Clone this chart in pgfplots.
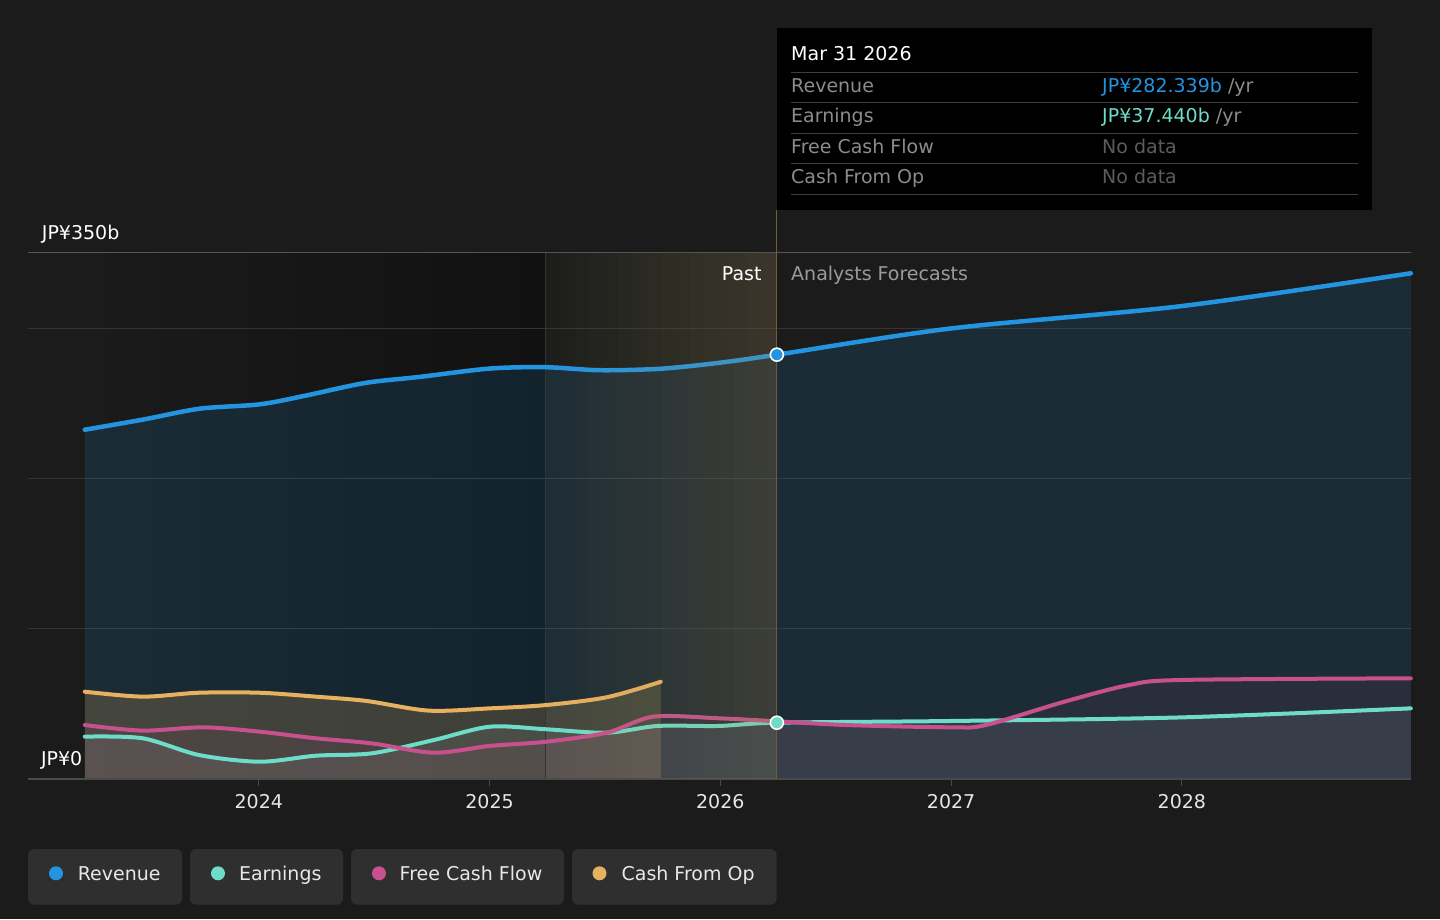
\documentclass[border=0pt]{standalone}
\usepackage{fontspec}
\setmainfont{DejaVu Sans}
\usepackage{pgfplots}
\pgfplotsset{compat=1.18}
\usepackage{pgfplotstable}
\definecolor{bg}{RGB}{27,27,27}
\definecolor{pastc}{RGB}{17,17,17}
\definecolor{revc}{RGB}{35,148,223}
\definecolor{earnc}{RGB}{109,220,200}
\definecolor{fcfc}{RGB}{200,80,142}
\definecolor{cfoc}{RGB}{232,177,95}
\definecolor{tanc}{RGB}{110,94,64}
\definecolor{hlc}{RGB}{185,172,105}
\definecolor{gridc}{RGB}{52,52,52}
\definecolor{axisc}{RGB}{74,74,74}
\definecolor{topc}{RGB}{85,85,85}
\definecolor{ticktext}{RGB}{230,230,230}
\definecolor{ttlab}{RGB}{140,140,140}
\definecolor{ttnod}{RGB}{92,92,92}
\definecolor{ttsep}{RGB}{62,62,62}
\definecolor{legbox}{RGB}{47,47,47}
\definecolor{legtext}{RGB}{232,232,232}
\definecolor{fcastc}{RGB}{155,155,155}
\definecolor{earnfill}{RGB}{190,196,204}

\pgfplotstableread{
x y
2023.246 232.4
2023.50 239.2
2023.744 246.4
2024.004 249.3
2024.20 255.0
2024.46 263.5
2024.70 267.6
2025.00 273.1
2025.244 274.0
2025.478 272.0
2025.742 273.0
2025.998 277.0
2026.245 282.339
2027.00 299.8
2028.00 314.7
2028.992 336.5
}\revtab

\pgfplotstableread{
x y
2023.246 28.2
2023.497 27.1
2023.74 16.0
2024.004 11.5
2024.247 15.5
2024.49 17.1
2024.758 25.9
2025.001 34.8
2025.244 33.1
2025.508 30.8
2025.729 35.3
2025.993 35.3
2026.245 37.44
2027.00 38.6
2028.00 41.0
2028.992 47.0
}\earntab

\pgfplotstableread{
x y
2023.246 35.9
2023.497 32.2
2023.76 34.4
2024.004 31.5
2024.247 27.1
2024.49 23.7
2024.758 17.5
2025.001 22.0
2025.244 24.8
2025.508 30.8
2025.71 41.5
2025.993 40.4
2026.245 38.4
2026.55 35.9
2027.00 34.4
2027.15 35.9
2027.49 51.4
2027.77 62.5
2028.00 65.9
2028.992 67.0
}\fcftab

\pgfplotstableread{
x y
2023.246 58.1
2023.497 54.8
2023.74 57.4
2024.004 57.4
2024.247 54.8
2024.468 51.9
2024.736 45.5
2025.001 47.0
2025.244 49.2
2025.508 54.4
2025.742 64.7
}\cfotab

\pgfplotsset{
  common/.style={
    at={(28pt,140pt)}, anchor=south west, scale only axis,
    width=1383pt, height=526pt,
    xmin=2023, xmax=2028.993, ymin=0, ymax=350,
    clip=false,
  }
}

\begin{document}
\begin{tikzpicture}[font=\fontsize{19}{23}\selectfont]
\begin{scope}[x=1pt,y=1pt]
\fill[bg] (0,0) rectangle (1440,919);
\useasboundingbox (0,0) rectangle (1440,919);

% tooltip box
\fill[black] (777,709) rectangle (1372,891);
\node[anchor=base west,inner sep=0,text=white] at (791,858) {Mar 31 2026};
\foreach \yy in {846.7,816.7,785.3,755.7,724} {\draw[ttsep,line width=1pt] (791,\yy) -- (1358,\yy);}
\node[anchor=base west,inner sep=0,text=ttlab] at (791,826.3) {Revenue};
\node[anchor=base west,inner sep=0,text=ttlab] at (791,796.3) {Earnings};
\node[anchor=base west,inner sep=0,text=ttlab] at (791,765.7) {Free Cash Flow};
\node[anchor=base west,inner sep=0,text=ttlab] at (791,735.7) {Cash From Op};
\node[anchor=base west,inner sep=0] at (1102,826.3) {\textcolor{revc}{JP¥282.339b} \textcolor{ttlab}{/yr}};
\node[anchor=base west,inner sep=0] at (1102,796.3) {\textcolor{earnc}{JP¥37.440b} \textcolor{ttlab}{/yr}};
\node[anchor=base west,inner sep=0,text=ttnod] at (1102,765.7) {No data};
\node[anchor=base west,inner sep=0,text=ttnod] at (1102,735.7) {No data};
\end{scope}

\begin{axis}[
  common,
  axis line style={draw=none},
  xtick={2024,2025,2026,2027,2028},
  xticklabels={2024,2025,2026,2027,2028},
  ytick={100,200,300}, yticklabels={},
  ymajorgrids, grid style={color=gridc, line width=1pt},
  major y tick style={draw=none},
  xtick pos=lower, ytick pos=left,
  tick align=outside, major tick length=7pt,
  x tick style={color=axisc, line width=1pt},
  xticklabel style={font=\fontsize{19}{23}\selectfont, text=ticktext, yshift=-5pt},
  /pgf/number format/assume math mode=true,
]
% darker past band
\shade[left color=bg, right color=pastc] (axis cs:2023.246,0) rectangle (axis cs:2025.244,350);
\draw[gridc, line width=1pt] (axis cs:2023,100) -- (axis cs:2025.244,100);
\draw[gridc, line width=1pt] (axis cs:2023,200) -- (axis cs:2025.244,200);
\draw[gridc, line width=1pt] (axis cs:2023,300) -- (axis cs:2025.244,300);
% fills
\addplot[draw=none, fill=revc, fill opacity=0.14, smooth] table {\revtab} \closedcycle;
\addplot[draw=none, fill=cfoc, fill opacity=0.2, smooth] table {\cfotab} \closedcycle;
\addplot[draw=none, fill=fcfc, fill opacity=0.08, smooth] table {\fcftab} \closedcycle;
\addplot[draw=none, fill=earnfill, fill opacity=0.1, smooth] table {\earntab} \closedcycle;
% vertical separator
\draw[gridc, line width=1pt] (axis cs:2025.244,0) -- (axis cs:2025.244,350);
% lines
\addplot[revc, line width=4.5pt, smooth, line cap=round] table {\revtab};
\addplot[cfoc, line width=4pt, smooth, line cap=round] table {\cfotab};
\addplot[earnc, line width=4pt, smooth, line cap=round] table {\earntab};
\addplot[fcfc, line width=4pt, smooth, line cap=round] table {\fcftab};
% axis lines
\draw[topc, line width=1pt] (rel axis cs:0,1) -- (rel axis cs:1,1);
\draw[axisc, line width=1.5pt] (rel axis cs:0,0) -- (rel axis cs:1,0);
\end{axis}

% highlight overlay (gradient built from nested translucent strips)
\begin{scope}[x=1pt,y=1pt]
\foreach \i in {0,...,15} {
  \fill[hlc, fill opacity=0.015] ({546+\i*14.4375},140) rectangle (777,666);
}
\end{scope}

\begin{axis}[common, hide axis]
\draw[tanc, line width=1.2pt] (axis cs:2026.245,0) -- (axis cs:2026.245,378.6);
\addplot[only marks, mark=*, mark size=6.5pt, mark options={fill=revc, draw=white, line width=1.6pt}] coordinates {(2026.245,282.339)};
\addplot[only marks, mark=*, mark size=6.5pt, mark options={fill=earnc, draw=white, line width=1.6pt}] coordinates {(2026.245,37.44)};
\end{axis}

\begin{scope}[x=1pt,y=1pt]
% axis texts
\node[anchor=base west,inner sep=0,text=white] at (41.7,679.7) {JP¥350b};
\node[anchor=base west,inner sep=0,text=white] at (40.8,153.3) {JP¥0};
\node[anchor=base east,inner sep=0,text=white] at (761.7,638.3) {Past};
\node[anchor=base west,inner sep=0,text=fcastc] at (791,638.3) {Analysts Forecasts};

% legend
\fill[legbox, rounded corners=6pt] (28,14.3) rectangle (182,70);
\fill[legbox, rounded corners=6pt] (190,14.3) rectangle (343,70);
\fill[legbox, rounded corners=6pt] (351,14.3) rectangle (564,70);
\fill[legbox, rounded corners=6pt] (572,14.3) rectangle (776.5,70);
\fill[revc] (56,45.7) circle (7);
\fill[earnc] (218,45.7) circle (7);
\fill[fcfc] (379,45.7) circle (7);
\fill[cfoc] (599.5,45.7) circle (7);
\node[anchor=base west,inner sep=0,text=legtext] at (77.6,38.3) {Revenue};
\node[anchor=base west,inner sep=0,text=legtext] at (238.8,38.3) {Earnings};
\node[anchor=base west,inner sep=0,text=legtext] at (399.5,38.3) {Free Cash Flow};
\node[anchor=base west,inner sep=0,text=legtext] at (621.4,38.3) {Cash From Op};
\end{scope}
\end{tikzpicture}
\end{document}
